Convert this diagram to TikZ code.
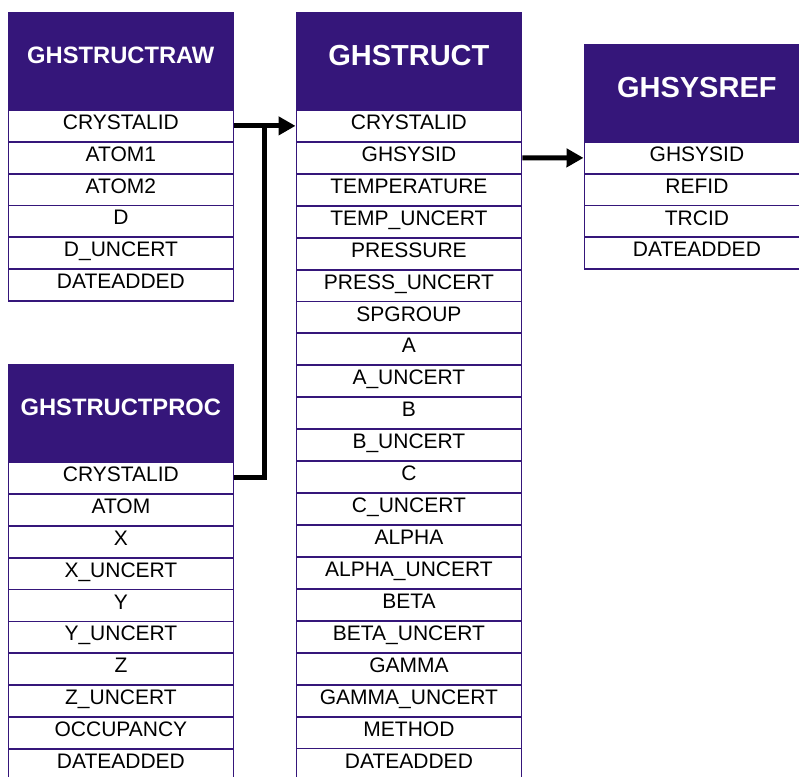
\documentclass[tikz,border=0pt]{standalone}
\usepackage{fontspec}
\setmainfont{Liberation Sans}
\usetikzlibrary{arrows.meta,calc}
\definecolor{hdr}{HTML}{35167A}
\begin{document}
\begin{tikzpicture}[x=0.75pt,y=-0.75pt,
  hdrbox/.style={fill=hdr, draw=hdr, line width=1.2pt, minimum width=168.75pt, minimum height=72.9pt,
    anchor=north west, inner sep=0pt, text=white, text depth=9pt},
  hdrsmall/.style={hdrbox, text height=12.7pt, font=\bfseries\fontsize{17.8}{20}\selectfont},
  hdrbig/.style={hdrbox, text height=15.6pt, font=\bfseries\fontsize{21.75}{24}\selectfont},
  rowbox/.style={draw=hdr, fill=white, line width=1.4pt, minimum width=168.75pt, minimum height=23.925pt,
    anchor=north west, inner sep=0pt, text height=11.3pt, text depth=6pt,
    font=\fontsize{15.75}{18}\selectfont},
  link/.style={line width=3.75pt},
  linkarrow/.style={link, -{Triangle[length=12.75pt,width=13.5pt]}}]
\useasboundingbox (0,0) rectangle (799,776);
\fill[white] (0,0) rectangle (799,776);

% GHSTRUCTRAW
\node[hdrsmall] (rawh) at (7.5,12) {GHSTRUCTRAW};
\foreach \t [count=\i from 0] in {CRYSTALID,ATOM1,ATOM2,D,D\_UNCERT,DATEADDED}
  \node[rowbox] (raw\i) at (7.5,109+\i*31.85) {\t};

% GHSTRUCTPROC
\node[hdrsmall] (proch) at (7.5,364) {GHSTRUCTPROC};
\foreach \t [count=\i from 0] in {CRYSTALID,ATOM,X,X\_UNCERT,Y,Y\_UNCERT,Z,Z\_UNCERT,OCCUPANCY,DATEADDED}
  \node[rowbox] (proc\i) at (7.5,461+\i*31.9) {\t};

% GHSTRUCT
\node[hdrbig] (sth) at (295.5,12) {GHSTRUCT};
\foreach \t [count=\i from 0] in {CRYSTALID,GHSYSID,TEMPERATURE,TEMP\_UNCERT,PRESSURE,PRESS\_UNCERT,SPGROUP,A,A\_UNCERT,B,B\_UNCERT,C,C\_UNCERT,ALPHA,ALPHA\_UNCERT,BETA,BETA\_UNCERT,GAMMA,GAMMA\_UNCERT,METHOD,DATEADDED}
  \node[rowbox] (st\i) at (295.5,109+\i*31.93) {\t};

% GHSYSREF
\node[hdrbig] (srh) at (583.5,43.5) {GHSYSREF};
\foreach \t [count=\i from 0] in {GHSYSID,REFID,TRCID,DATEADDED}
  \node[rowbox] (sr\i) at (583.5,141+\i*31.8) {\t};

% connectors
\coordinate (j) at ($(raw0.east)!0.5!(st0.west)$);
\draw[linkarrow] (raw0.east) -- (st0.west);
\draw[link] (proc0.east) -| (j);
\draw[linkarrow] (st1.east) -- (sr0.west);
\end{tikzpicture}
\end{document}
